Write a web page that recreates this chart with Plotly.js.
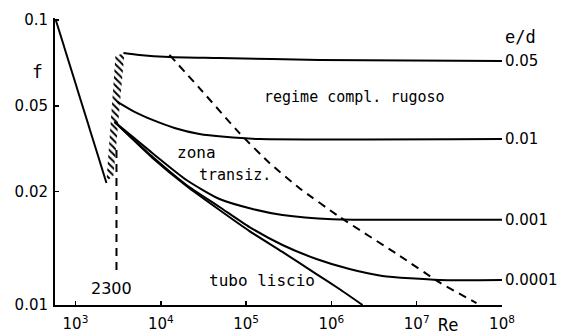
<!DOCTYPE html>
<html>
<head>
<meta charset="utf-8">
<script src="https://cdn.plot.ly/plotly-3.0.1.min.js"></script>
<style>html,body{margin:0;padding:0;background:#fff;}#chart{width:561px;height:336px;}</style>
</head>
<body>
<div id="chart"></div>
<script>
// Laminar flow line
const reLam = [583, 2309];
const fLam = [0.1008, 0.0268];

// Turbulent curves, by relative roughness e/d
const re005 = [3650, 5620, 12650, 48800, 725000, 100000000];
const f005 = [0.0766, 0.0754, 0.0742, 0.0736, 0.0724, 0.0718];

const re001 = [3100, 4920, 8000, 14480, 28400, 55800, 143600, 100000000];
const f001 = [0.0516, 0.0476, 0.0446, 0.0418, 0.0398, 0.0389, 0.0382, 0.0382];

const re0001 = [2865, 8000, 20000, 48800, 119000, 267000, 1030000, 8240000, 100000000];
const f0001 = [0.0439, 0.0341, 0.02746, 0.02354, 0.02172, 0.0207, 0.0200, 0.0199, 0.0199];

const re00001 = [2865, 8000, 20000, 48800, 109600, 267000, 668000, 1630000, 3970000, 18500000, 100000000];
const f00001 = [0.0439, 0.0331, 0.02636, 0.02208, 0.01877, 0.01624, 0.01450, 0.01337, 0.01264, 0.01224, 0.01224];

// Smooth pipe ("tubo liscio")
const reSmooth = [2865, 8000, 20000, 48800, 109600, 267000, 668000, 1240000, 2320000];
const fSmooth = [0.0439, 0.0328, 0.02615, 0.02154, 0.01817, 0.01535, 0.01284, 0.01138, 0.0100];

// Boundary of the fully rough regime (dashed)
const reRough = [12650, 28400, 83700, 188000, 423000, 1240000, 6280000, 18500000, 50200000];
const fRough = [0.0754, 0.0577, 0.0401, 0.0315, 0.0257, 0.0204, 0.0149, 0.0120, 0.01016];

// Critical Reynolds marker (dashed vertical) and hatched transition band
const reCrit = [3025, 3025];
const fCrit = [0.0350, 0.01305];
const reBand = [2944, 3750, 2790, 2309, 2944];
const fBand = [0.0748, 0.0766, 0.0284, 0.0272, 0.0748];

// Curve labels (e/d)
const edLabels = ['0.05', '0.01', '0.001', '0.0001'];
const edEndF = [f005[f005.length-1], f001[f001.length-1], f0001[f0001.length-1], f00001[f00001.length-1]];

// Tick labels
const xTickVals = [1e3, 1e4, 1e5, 1e6, 1e7, 1e8];
const xTickText = ['10<sup>3</sup>', '10<sup>4</sup>', '10<sup>5</sup>', '10<sup>6</sup>', '10<sup>7</sup>', '10<sup>8</sup>'];
const yTickVals = [0.01, 0.025, 0.05, 0.1];
const yTickText = ['0.01', '0.02', '0.05', '0.1'];

const FONT = 'DejaVu Sans';
const MONO = 'DejaVu Sans Mono';
function curveLine(sm) { return {color: 'black', width: 2, shape: 'spline', smoothing: sm}; }

const traces = [
  {x: reBand, y: fBand, mode: 'lines', fill: 'toself', line: {width: 0, color: 'rgba(0,0,0,0)'},
   fillcolor: 'rgba(0,0,0,0)',
   fillpattern: {shape: '\\', fgcolor: 'black', bgcolor: 'white', size: 5, solidity: 0.4}, hoverinfo: 'skip'},
  {x: reLam, y: fLam, mode: 'lines', line: {color: 'black', width: 2}},
  {x: re005, y: f005, mode: 'lines', line: curveLine(0.6)},
  {x: re001, y: f001, mode: 'lines', line: curveLine(0.6)},
  {x: re0001, y: f0001, mode: 'lines', line: curveLine(0.6)},
  {x: re00001, y: f00001, mode: 'lines', line: curveLine(0.6)},
  {x: reSmooth, y: fSmooth, mode: 'lines', line: curveLine(0.5)},
  {x: reRough, y: fRough, mode: 'lines', line: {color: 'black', width: 2, dash: '8px,6px', shape: 'spline', smoothing: 0.5}},
  {x: reCrit, y: fCrit, mode: 'lines', line: {color: 'black', width: 2, dash: '8px,6px'}}
];

const ann = [];
function txt(text, x, y, xa, ya, size, fam) {
  ann.push({text: text, x: x, y: y, xref: 'paper', yref: 'paper', xanchor: xa, yanchor: ya,
    showarrow: false, font: {family: fam, size: size, color: 'black'}});
}
txt('f', -0.040, 0.812, 'center', 'middle', 18, MONO);
txt('e/d', 1.042, 0.934, 'center', 'middle', 17, MONO);
txt('regime compl. rugoso', 0.671, 0.725, 'center', 'middle', 15, MONO);
txt('zona', 0.268, 0.530, 'left', 'middle', 16, MONO);
txt('transiz.', 0.318, 0.453, 'left', 'middle', 15, MONO);
txt('tubo liscio', 0.340, 0.087, 'left', 'middle', 16, MONO);
txt('2300', 0.1275, 0.059, 'center', 'middle', 16, FONT);
txt('Re', 0.879, -0.112, 'center', 'bottom', 17, MONO);
edLabels.forEach(function(l, i) {
  ann.push({text: l, x: 1, xref: 'paper', y: Math.log10(edEndF[i]), yref: 'y', xanchor: 'left', yanchor: 'middle',
    xshift: 1, showarrow: false, font: {family: FONT, size: 15, color: 'black'}});
});

const layout = {
  width: 561, height: 336,
  margin: {l: 55, r: 59, t: 18, b: 31, pad: 0},
  paper_bgcolor: 'white', plot_bgcolor: 'white',
  showlegend: false,
  font: {family: FONT, size: 15, color: 'black'},
  xaxis: {type: 'log', range: [2.76, 8.0], showgrid: false, zeroline: false, showline: true, linecolor: 'black', linewidth: 2,
    ticks: 'inside', ticklen: 4, tickwidth: 1.5, tickcolor: 'black', tickvals: xTickVals, ticktext: xTickText,
    tickfont: {family: FONT, size: 15}, ticklabelstandoff: 4, mirror: false},
  yaxis: {type: 'log', range: [-2, -0.993], showgrid: false, zeroline: false, showline: true, linecolor: 'black', linewidth: 2,
    ticks: 'inside', ticklen: 4, tickwidth: 1.5, tickcolor: 'black', tickvals: yTickVals, ticktext: yTickText,
    tickfont: {family: FONT, size: 15}, ticklabelstandoff: 2, mirror: false},
  annotations: ann
};

Plotly.newPlot('chart', traces, layout, {staticPlot: true, displayModeBar: false});
</script>
</body>
</html>
